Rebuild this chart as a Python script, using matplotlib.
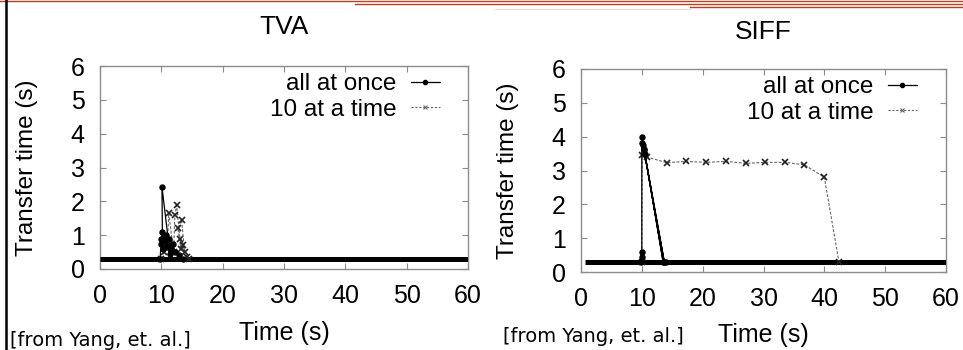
import matplotlib
matplotlib.use("Agg")
import matplotlib.pyplot as plt
from matplotlib.lines import Line2D

# ---------------- data ----------------
panel_titles = ["TVA", "SIFF"]
series_labels = ["all at once", "10 at a time"]
x_ticks = [0, 10, 20, 30, 40, 50, 60]
y_ticks = [0, 1, 2, 3, 4, 5, 6]

# steady-state transfer time (dense overlapping points -> thick band)
tva_base_x = [0, 60]
tva_base_y = [0.3, 0.3]
siff_base_x = [0.7, 60]
siff_base_y = [0.3, 0.3]

# TVA, all at once
tva_all_x = [9.8, 10.0, 10.1, 10.0, 10.2, 10.1, 11.4, 10.3, 10.5, 10.8, 11.0, 11.3,
             11.6, 11.9, 12.2, 12.8, 13.5]
tva_all_y = [0.3, 0.9, 1.1, 0.75, 0.6, 2.43, 0.45, 0.9, 0.85, 1.0, 0.7, 0.9,
             0.6, 0.75, 0.5, 0.4, 0.3]
# TVA, 10 at a time
tva_ten_x = [10.0, 10.4, 10.7, 11.0, 11.2, 12.0, 12.2, 12.5, 13.2, 12.7, 13.3,
             13.8, 13.1, 13.6, 14.2, 14.5]
tva_ten_y = [0.3, 0.5, 0.9, 0.6, 1.65, 0.5, 1.6, 1.88, 0.6, 1.2, 1.45,
             0.5, 0.9, 0.7, 0.35, 0.3]

# SIFF, all at once
siff_all_x = [9.8, 9.95, 10.0, 10.0, 10.1, 10.2, 10.4, 13.5, 10.5, 13.7, 10.3, 13.6, 13.9]
siff_all_y = [0.3, 0.6, 0.45, 3.82, 4.0, 3.75, 3.6, 0.3, 3.5, 0.3, 3.65, 0.3, 0.3]
# SIFF, 10 at a time
siff_ten_x = [10.0, 10.05, 10.8, 14.1, 17.3, 20.6, 23.8, 27.1, 30.3, 33.5, 36.7, 40.0, 42.4]
siff_ten_y = [0.3, 3.45, 3.4, 3.23, 3.27, 3.24, 3.27, 3.21, 3.24, 3.24, 3.17, 2.8, 0.3]

FONT = "Liberation Sans"
SPINE = "#8c8c8c"

fig = plt.figure(figsize=(9.63, 3.5), dpi=100)
W, H = 963.0, 350.0

def axes_px(left, top, right, bottom):
    return [left / W, 1 - bottom / H, (right - left) / W, (bottom - top) / H]

panels = [
    dict(rect=axes_px(100, 66, 468, 269), title=panel_titles[0],
         base=(tva_base_x, tva_base_y), all=(tva_all_x, tva_all_y),
         ten=(tva_ten_x, tva_ten_y), src_x=10, src_y=340, title_y=27, xl_y=333, yl_x=27,
         leg_right=440, leg_top=73),
    dict(rect=axes_px(581, 69, 946, 272), title=panel_titles[1],
         base=(siff_base_x, siff_base_y), all=(siff_all_x, siff_all_y),
         ten=(siff_ten_x, siff_ten_y), src_x=503, src_y=337, title_y=32, xl_y=335, yl_x=508,
         leg_right=917, leg_top=76),
]

for p in panels:
    ax = fig.add_axes(p["rect"])
    l, b, w, h = p["rect"]
    axl, axt = l * W, (1 - b - h) * H
    axw, axh = w * W, h * H
    ax.set_xlim(0, 60)
    ax.set_ylim(0, 6)
    ax.set_xticks(x_ticks)
    ax.set_yticks(y_ticks)
    ax.tick_params(direction="in", length=4, width=0.8, color=SPINE,
                   top=True, right=True, labelsize=18)
    ax.tick_params(axis="x", pad=11)
    ax.tick_params(axis="y", pad=11)
    for lab in ax.get_xticklabels() + ax.get_yticklabels():
        lab.set_fontfamily(FONT)
    for s in ax.spines.values():
        s.set_color(SPINE)
        s.set_linewidth(1.0)

    # baseline band
    ax.plot(*p["base"], color="black", lw=3.6, solid_capstyle="butt", zorder=3)
    # series
    ax.plot(*p["ten"], color="#666666", lw=0.8, ls=(0, (2.5, 1.5)), marker="x",
            ms=4, mew=1.2, mec="#222222", zorder=4)
    ax.plot(*p["all"], color="black", lw=0.9, marker="o", ms=3.6, zorder=5)

    ax.set_title(p["title"], fontsize=19, fontfamily=FONT, pad=0,
                 y=(axt + axh - p["title_y"]) / axh, va="center")
    ax.set_xlabel("Time (s)", fontsize=18, fontfamily=FONT)
    ax.xaxis.label.set_va("center")
    ax.xaxis.set_label_coords(0.5, (axt + axh - p["xl_y"]) / axh)
    ax.set_ylabel("Transfer time (s)", fontsize=17.5, fontfamily=FONT)
    ax.yaxis.label.set_va("center")
    ax.yaxis.set_label_coords((p["yl_x"] - axl) / axw, 0.5)

    h_all = Line2D([], [], color="black", lw=0.9, marker="o", ms=3)
    h_ten = Line2D([], [], color="#666666", lw=0.8, ls=(0, (2, 1.5)), marker="x",
                   ms=3.5, mew=0.8)
    ax.legend([h_all, h_ten], series_labels, loc="upper right",
              bbox_to_anchor=((p["leg_right"] - axl) / axw, (axt + axh - p["leg_top"]) / axh),
              borderaxespad=0, borderpad=0, frameon=False, markerfirst=False,
              handlelength=1.2, handletextpad=0.6, labelspacing=0.15,
              prop={"family": FONT, "size": 17.5})

    fig.text(p["src_x"] / W, 1 - p["src_y"] / H, "[from Yang, et. al.]", fontsize=14,
             fontfamily="DejaVu Sans", va="center", ha="left")

# slide decorations
red = "#b8401f"
fig.add_artist(Line2D([0, 1], [1 - 1 / H, 1 - 1 / H], color=red, lw=1.0, transform=fig.transFigure))
fig.add_artist(Line2D([355 / W, 1], [1 - 4 / H, 1 - 4 / H], color=red, lw=1.0, transform=fig.transFigure))
fig.add_artist(Line2D([690 / W, 1], [1 - 7 / H, 1 - 7 / H], color=red, lw=1.0, transform=fig.transFigure))
fig.add_artist(Line2D([495 / W, 690 / W], [1 - 9 / H, 1 - 9 / H], color="#dddddd", lw=0.8, transform=fig.transFigure))
fig.add_artist(Line2D([6 / W, 6 / W], [0, 1], color="black", lw=1.8, transform=fig.transFigure))

fig.savefig("out.png", dpi=100)
